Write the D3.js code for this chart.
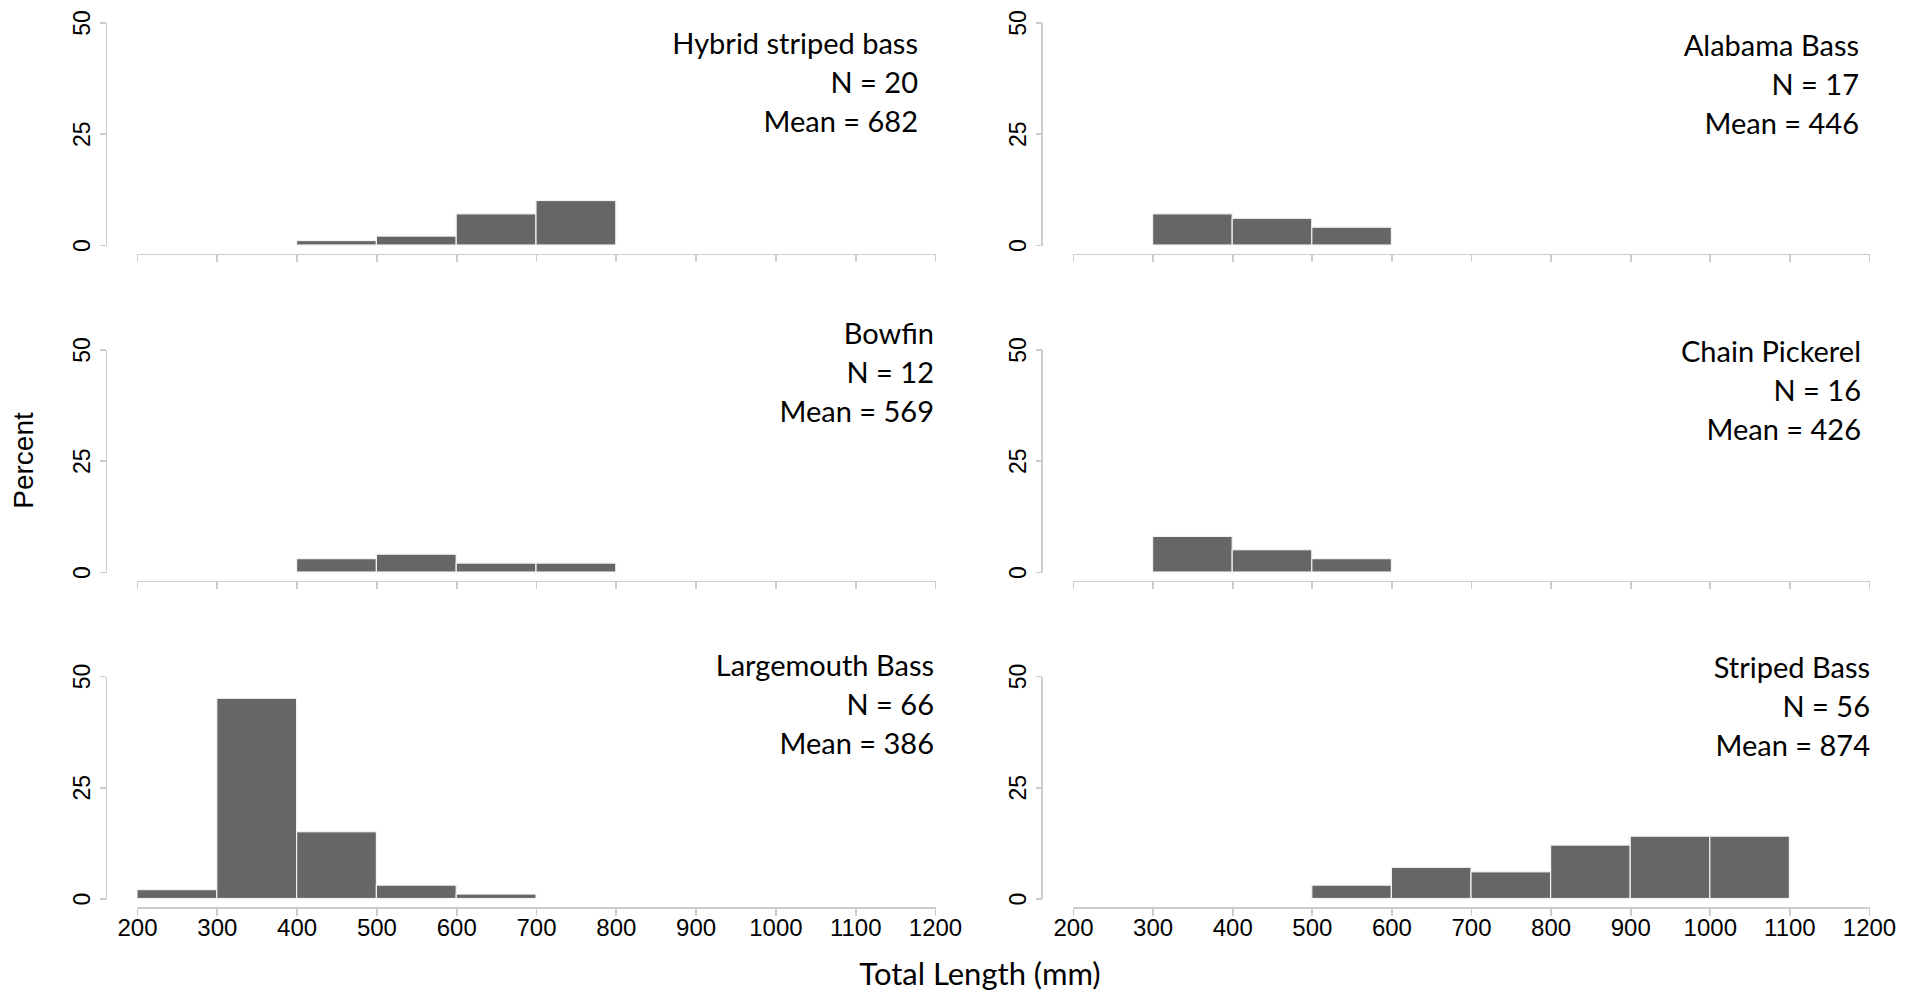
<!DOCTYPE html>
<html>
<head>
<meta charset="utf-8">
<script src="https://cdn.jsdelivr.net/npm/d3@7"></script>
<style>
  html, body { margin: 0; padding: 0; background: #ffffff; }
  svg { display: block; }
  .axis path, .axis line { stroke: #cccccc; stroke-width: 1.7px; shape-rendering: crispEdges; }
  .tick-label { font-family: "Liberation Sans", Arial, sans-serif; fill: #000000; }
  .note { font-family: Lato, "Open Sans", sans-serif; fill: #000000; }
</style>
</head>
<body>
<svg id="chart" width="1921" height="995"></svg>
<script>
// Species shown, one panel each (row by row, left then right)
const species = ["Hybrid striped bass", "Alabama Bass", "Bowfin", "Chain Pickerel", "Largemouth Bass", "Striped Bass"];
const sampleSizes = [20, 17, 12, 16, 66, 56];
const meanLengths = [682, 446, 569, 426, 386, 874];

// 100-mm length bins: 200-300, 300-400, ..., 1100-1200
const binStarts = [200, 300, 400, 500, 600, 700, 800, 900, 1000, 1100];
const binWidth = 100;

// Percent of fish in each bin, per species
const hybridStripedBassPct = [0, 0, 1, 2, 7, 10, 0, 0, 0, 0];
const alabamaBassPct       = [0, 7, 6, 4, 0, 0, 0, 0, 0, 0];
const bowfinPct            = [0, 0, 3, 4, 2, 2, 0, 0, 0, 0];
const chainPickerelPct     = [0, 8, 5, 3, 0, 0, 0, 0, 0, 0];
const largemouthBassPct    = [2, 45, 15, 3, 1, 0, 0, 0, 0, 0];
const stripedBassPct       = [0, 0, 0, 3, 7, 6, 12, 14, 14, 0];
const percentBySpecies = [hybridStripedBassPct, alabamaBassPct, bowfinPct, chainPickerelPct, largemouthBassPct, stripedBassPct];

// Axis ticks
const xTicks = [200, 300, 400, 500, 600, 700, 800, 900, 1000, 1100, 1200];
const yTicks = [0, 25, 50];
const xLabel = "Total Length (mm)";
const yLabel = "Percent";

// ---- layout ----
const colX = [{ axis: 106, start: 137, end: 935 }, { axis: 1041.5, start: 1073, end: 1869 }];
const rowTop = [22.5, 349.5, 676];
const panelH = 222.5;
const xAxisGap = 9;
// per-panel placement of the species note (relative to the panel's right end and top)
const noteOffsets = [
  { dx: -17, dy: 31 }, { dx: -10, dy: 33.5 },
  { dx: -1,  dy: -6 }, { dx: -8,  dy: 12.5 },
  { dx: -1,  dy: 0 },  { dx: 1,   dy: 2 }
];
const noteLineGap = 39;
const noteFont = 29;

const svg = d3.select("#chart");

species.forEach((name, i) => {
  const col = colX[i % 2];
  const row = Math.floor(i / 2);
  const top = rowTop[row];
  const bottom = top + panelH;

  const x = d3.scaleLinear().domain([200, 1200]).range([col.start, col.end]);
  const y = d3.scaleLinear().domain([0, 50]).range([bottom, top]);

  const g = svg.append("g");

  // bars
  const bins = binStarts.map((b, k) => ({ x0: b, x1: b + binWidth, v: percentBySpecies[i][k] }))
    .filter(d => d.v > 0);
  g.selectAll("rect.bar").data(bins).join("rect")
    .attr("class", "bar")
    .attr("x", d => x(d.x0))
    .attr("width", d => x(d.x1) - x(d.x0))
    .attr("y", d => y(d.v))
    .attr("height", d => y(0) - y(d.v))
    .attr("fill", "#666666")
    .attr("stroke", "#f2f2f2")
    .attr("stroke-width", 1.2);

  // y axis
  const yAxis = g.append("g")
    .attr("class", "axis")
    .attr("transform", `translate(${col.axis},0)`)
    .call(d3.axisLeft(y).tickValues(yTicks).tickSize(6).tickSizeOuter(0).tickFormat(d3.format("d")));
  yAxis.selectAll("text")
    .attr("class", "tick-label")
    .attr("transform", "rotate(-90)")
    .attr("x", 0).attr("y", -16).attr("dy", 0)
    .attr("text-anchor", "middle")
    .style("font-size", "23px");

  // x axis
  const xAxis = g.append("g")
    .attr("class", "axis")
    .attr("transform", `translate(0,${bottom + xAxisGap})`)
    .call(d3.axisBottom(x).tickValues(xTicks).tickSize(8).tickSizeOuter(0).tickFormat(d3.format("d")));
  xAxis.selectAll("text")
    .attr("class", "tick-label")
    .attr("y", 28).attr("dy", 0)
    .style("font-size", "24px")
    .style("display", row === 2 ? null : "none");
  xAxis.selectAll(".domain, line").style("stroke", "#cccccc");
  yAxis.selectAll(".domain, line").style("stroke", "#cccccc");

  // species note
  const off = noteOffsets[i];
  const lines = [name, `N = ${sampleSizes[i]}`, `Mean = ${meanLengths[i]}`];
  g.append("g").selectAll("text").data(lines).join("text")
    .attr("class", "note")
    .attr("x", col.end + off.dx)
    .attr("y", (d, k) => top + off.dy + k * noteLineGap)
    .attr("text-anchor", "end")
    .style("font-size", noteFont + "px")
    .text(d => d);
});

// shared axis titles
svg.append("text")
  .attr("class", "tick-label")
  .attr("transform", "translate(33,460.5) rotate(-90)")
  .attr("text-anchor", "middle")
  .style("font-size", "28px")
  .text(yLabel);

svg.append("text")
  .attr("class", "note")
  .attr("x", 980).attr("y", 985)
  .attr("text-anchor", "middle")
  .style("font-size", "31px")
  .text(xLabel);
</script>
</body>
</html>
